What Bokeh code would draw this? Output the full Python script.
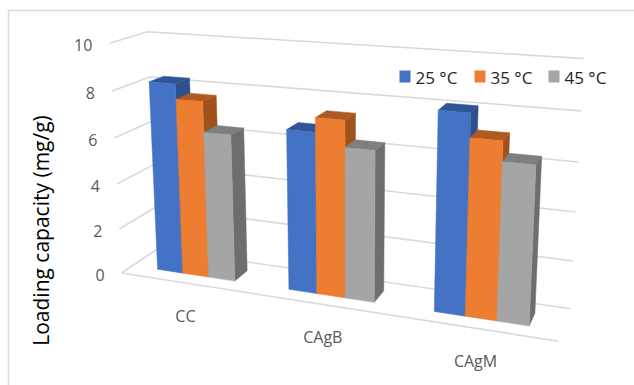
import numpy as np
from bokeh.plotting import figure
from bokeh.models import Range1d
from bokeh.core.properties import value
from bokeh.embed import file_html
from bokeh.resources import INLINE

# ---- data -------------------------------------------------------------
categories = ["CC", "CAgB", "CAgM"]
series = ["25 °C", "35 °C", "45 °C"]
load_25 = [8.3, 6.8, 8.1]
load_35 = [7.65, 7.4, 7.15]
load_45 = [6.35, 6.3, 6.35]
y_ticks = [0, 2, 4, 6, 8, 10]
y_title = "Loading capacity (mg/g)"

# ---- styling ----------------------------------------------------------
front_colors = ["#4472C4", "#ED7D31", "#A5A5A5"]
top_colors = ["#2F5597", "#AE5A21", "#7F7F7F"]
side_colors = ["#2E4F8C", "#A0521D", "#6E6E6E"]
grid_color = "#D9D9D9"
label_color = "#595959"
FONT = value("Open Sans")

W, H = 634, 385
Y_MAX = 10.0

# Corners of the plot box in (category, value, depth) space and where they
# sit on the page; a perspective camera is fitted through them.
box_world = [(0, 10, 0), (0, 0, 0), (0, 10, 1), (0, 0, 1),
             (3, 10, 1), (3, 0, 1), (3, 0, 0)]
box_page = [(109, 43), (121, 272), (147, 31), (157, 249),
            (583, 58), (570, 308), (558, 341)]


def fit_camera(world, page):
    rows = []
    for (X, Y, Z), (u, v) in zip(world, page):
        Y = Y / Y_MAX
        u, v = (u - W / 2) / W, (v - H / 2) / W
        rows.append([X, Y, Z, 1, 0, 0, 0, 0, -u * X, -u * Y, -u * Z, -u])
        rows.append([0, 0, 0, 0, X, Y, Z, 1, -v * X, -v * Y, -v * Z, -v])
    _, _, vt = np.linalg.svd(np.asarray(rows, dtype=float))
    return vt[-1].reshape(3, 4)


CAM = fit_camera(box_world, box_page)


def project(x, y, z):
    h = CAM @ np.array([x, y / Y_MAX, z, 1.0])
    u, v = h[0] / h[2], h[1] / h[2]
    return u * W + W / 2, v * W + H / 2


def poly(points):
    pts = [project(*pt) for pt in points]
    return [p[0] for p in pts], [p[1] for p in pts]


p = figure(width=W, height=H, x_range=Range1d(0, W), y_range=Range1d(H, 0),
           x_axis_type=None, y_axis_type=None, toolbar_location=None,
           output_backend="svg", min_border=0)
p.outline_line_color = None
p.grid.visible = False
p.background_fill_color = "white"
p.border_fill_color = "white"

# chart area border
p.multi_line(xs=[[8, 8, W + 10]], ys=[[H + 10, 10, 10]],
             line_color=grid_color, line_width=1.5)

# walls: back-wall and side-wall gridlines, plus the floor's front edge
n_cat = len(categories)
lx, ly = [], []
for t in y_ticks:
    xs, ys = poly([(0, t, 0), (0, t, 1), (n_cat, t, 1)])
    lx.append(xs)
    ly.append(ys)
xs, ys = poly([(0, 0, 0), (n_cat, 0, 0)])
lx.append(xs)
ly.append(ys)
p.multi_line(xs=lx, ys=ly, line_color=grid_color, line_width=1.6)

# bars as 3D boxes, painted left to right: side, top, front
values = [load_25, load_35, load_45]
bar_w = 0.2
z0, z1 = 0.3, 0.7
fx, fy, fc = [], [], []
for i in range(n_cat):
    for s in range(len(series)):
        v = values[s][i]
        x0 = i + 0.5 - 1.5 * bar_w + s * bar_w
        x1 = x0 + bar_w
        faces = [
            ([(x1, 0, z0), (x1, 0, z1), (x1, v, z1), (x1, v, z0)], side_colors[s]),
            ([(x0, v, z0), (x1, v, z0), (x1, v, z1), (x0, v, z1)], top_colors[s]),
            ([(x0, 0, z0), (x1, 0, z0), (x1, v, z0), (x0, v, z0)], front_colors[s]),
        ]
        for pts, col in faces:
            xs, ys = poly(pts)
            fx.append(xs)
            fy.append(ys)
            fc.append(col)
p.patches(xs=fx, ys=fy, fill_color=fc, line_color=fc, line_width=0.5)

# value axis tick labels along the front-left edge
tx, ty = [], []
for t in y_ticks:
    x, y = project(0, t, 0)
    tx.append(x - 17)
    ty.append(y + 2)
p.text(x=tx, y=ty, text=[str(t) for t in y_ticks], text_font=FONT,
       text_font_size="16px", text_color=label_color,
       text_align="right", text_baseline="middle")

# category labels below the floor's front edge
cx, cy = [], []
for i in range(n_cat):
    x, y = project(i + 0.5, 0, 0)
    cx.append(x)
    cy.append(y + 33)
p.text(x=cx, y=cy, text=categories, text_font=FONT, text_font_size="16px",
       text_color=label_color, text_align="center", text_baseline="middle")

# value axis title
p.text(x=[40], y=[230], text=[y_title], text_font=FONT, text_font_size="21px",
       text_color="#000000", angle=np.pi / 2, text_align="center",
       text_baseline="middle")

# legend
leg_x = [399, 474, 548]
leg_y = 76
p.quad(left=leg_x, right=[x + 11 for x in leg_x],
       top=[leg_y - 6] * 3, bottom=[leg_y + 6] * 3,
       fill_color=front_colors, line_color=None)
p.text(x=[x + 16 for x in leg_x], y=[leg_y + 1] * 3, text=series,
       text_font=FONT, text_font_size="17px", text_color="#262626",
       text_align="left", text_baseline="middle")

open("out.html", "w").write(file_html(p, INLINE))
